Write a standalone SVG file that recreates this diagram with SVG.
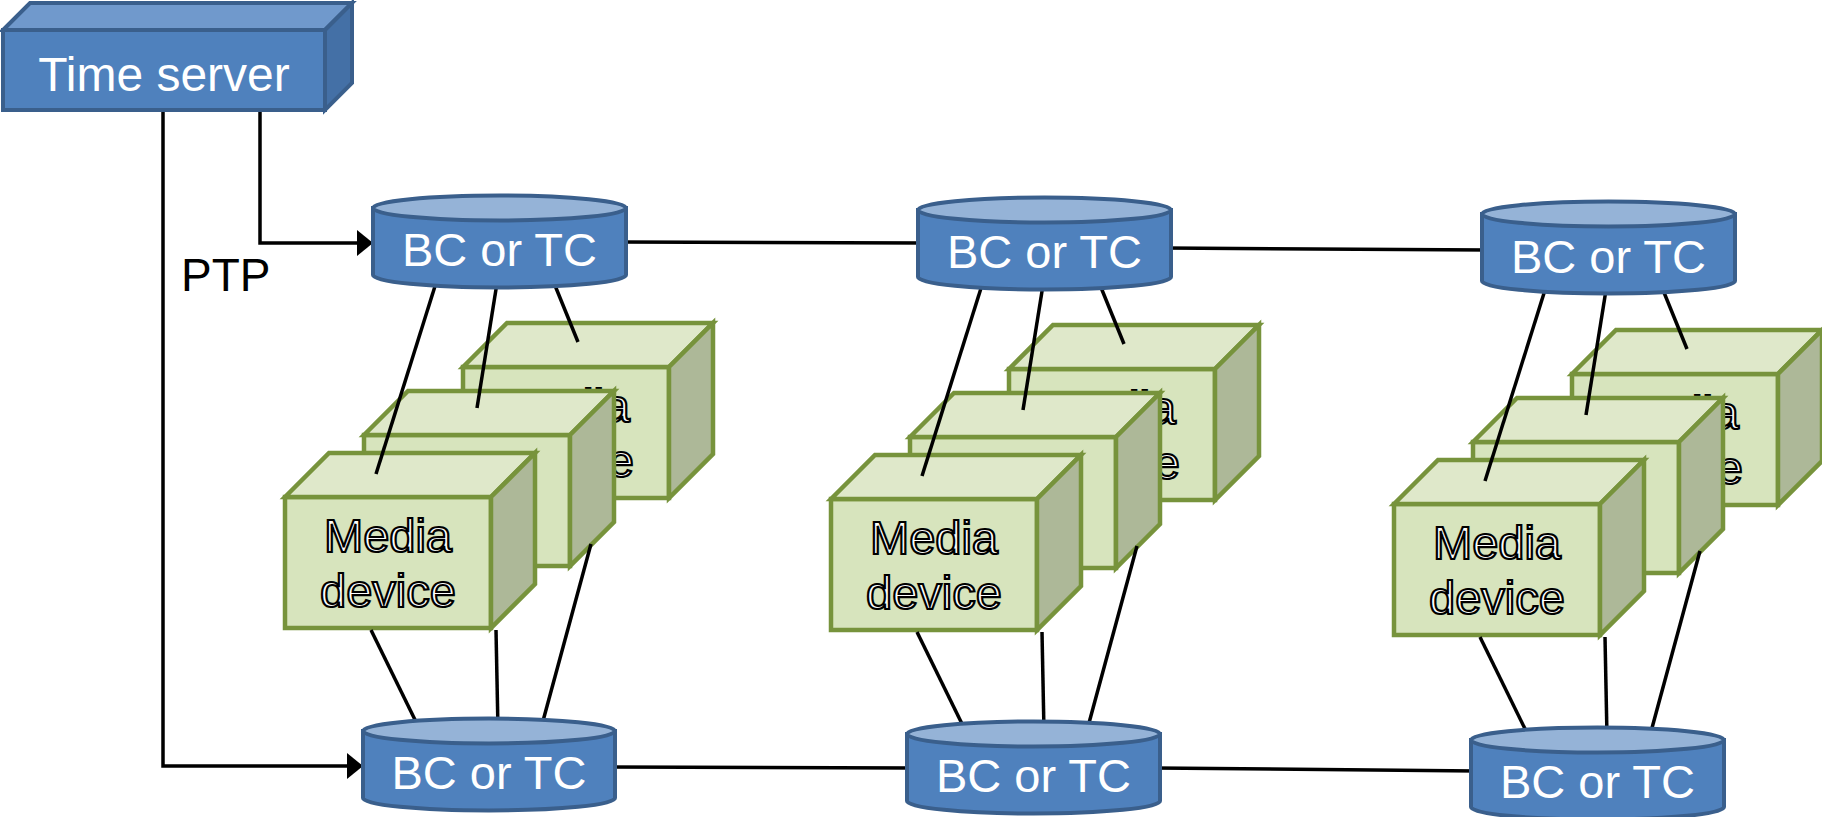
<svg xmlns="http://www.w3.org/2000/svg" width="1822" height="817" viewBox="0 0 1822 817">
<defs>
<style>
.ln{stroke:#000;stroke-width:3.5;fill:none;stroke-linecap:butt}
.bf{fill:#D7E4BD;stroke:#77933C;stroke-width:4.5;stroke-linejoin:miter}
.bt{fill:#DFE8CA;stroke:#77933C;stroke-width:4.5}
.br{fill:#ADB898;stroke:#77933C;stroke-width:4.5}
.bx{font-family:"Liberation Sans",Arial,sans-serif;font-size:47px;fill:#fff;stroke:#000;stroke-width:2.2;text-anchor:middle}
.cb{fill:#4F81BD;stroke:#3A5F8C;stroke-width:4}
.ct{fill:#95B3D7;stroke:#3A5F8C;stroke-width:4}
.wt{font-family:"Liberation Sans",Arial,sans-serif;font-size:47px;fill:#fff;text-anchor:middle}
.tf{fill:#4F81BD;stroke:#3A5F8C;stroke-width:4}
.tt{fill:#7099CC;stroke:#3A5F8C;stroke-width:4}
.tr{fill:#4470A6;stroke:#3A5F8C;stroke-width:4}
.lbl{font-family:"Liberation Sans",Arial,sans-serif;font-size:46px;fill:#000}
</style>
<marker id="arr" markerUnits="userSpaceOnUse" markerWidth="18" markerHeight="28" refX="0" refY="13" orient="auto" viewBox="0 0 18 26">
<path d="M0,0 L16,13 L0,26 Z" fill="#000"/>
</marker>
</defs>
<rect width="1822" height="817" fill="#fff"/>

<!-- Media devices column 1 -->
<g id="md1c" transform="translate(463,367)">
<rect class="bf" x="0" y="0" width="206" height="131"/>
<path class="bt" d="M0,0 L44,-44 L250,-44 L206,0 Z"/>
<path class="br" d="M206,0 L250,-44 L250,87 L206,131 Z"/>
<text class="bx" x="103" y="55">Media</text>
<text class="bx" x="103" y="110">device</text>
</g>
<g id="md1b" transform="translate(364,435)">
<rect class="bf" x="0" y="0" width="206" height="131"/>
<path class="bt" d="M0,0 L44,-44 L250,-44 L206,0 Z"/>
<path class="br" d="M206,0 L250,-44 L250,87 L206,131 Z"/>
</g>
<g id="md1a" transform="translate(285,497)">
<rect class="bf" x="0" y="0" width="206" height="131"/>
<path class="bt" d="M0,0 L44,-44 L250,-44 L206,0 Z"/>
<path class="br" d="M206,0 L250,-44 L250,87 L206,131 Z"/>
<text class="bx" x="103" y="55">Media</text>
<text class="bx" x="103" y="110">device</text>
</g>

<!-- Media devices column 2 -->
<g id="md2c" transform="translate(1009,369)">
<rect class="bf" x="0" y="0" width="206" height="131"/>
<path class="bt" d="M0,0 L44,-44 L250,-44 L206,0 Z"/>
<path class="br" d="M206,0 L250,-44 L250,87 L206,131 Z"/>
<text class="bx" x="103" y="55">Media</text>
<text class="bx" x="103" y="110">device</text>
</g>
<g id="md2b" transform="translate(910,437)">
<rect class="bf" x="0" y="0" width="206" height="131"/>
<path class="bt" d="M0,0 L44,-44 L250,-44 L206,0 Z"/>
<path class="br" d="M206,0 L250,-44 L250,87 L206,131 Z"/>
</g>
<g id="md2a" transform="translate(831,499)">
<rect class="bf" x="0" y="0" width="206" height="131"/>
<path class="bt" d="M0,0 L44,-44 L250,-44 L206,0 Z"/>
<path class="br" d="M206,0 L250,-44 L250,87 L206,131 Z"/>
<text class="bx" x="103" y="55">Media</text>
<text class="bx" x="103" y="110">device</text>
</g>

<!-- Media devices column 3 -->
<g id="md3c" transform="translate(1572,374)">
<rect class="bf" x="0" y="0" width="206" height="131"/>
<path class="bt" d="M0,0 L44,-44 L250,-44 L206,0 Z"/>
<path class="br" d="M206,0 L250,-44 L250,87 L206,131 Z"/>
<text class="bx" x="103" y="55">Media</text>
<text class="bx" x="103" y="110">device</text>
</g>
<g id="md3b" transform="translate(1473,442)">
<rect class="bf" x="0" y="0" width="206" height="131"/>
<path class="bt" d="M0,0 L44,-44 L250,-44 L206,0 Z"/>
<path class="br" d="M206,0 L250,-44 L250,87 L206,131 Z"/>
</g>
<g id="md3a" transform="translate(1394,504)">
<rect class="bf" x="0" y="0" width="206" height="131"/>
<path class="bt" d="M0,0 L44,-44 L250,-44 L206,0 Z"/>
<path class="br" d="M206,0 L250,-44 L250,87 L206,131 Z"/>
<text class="bx" x="103" y="55">Media</text>
<text class="bx" x="103" y="110">device</text>
</g>

<!-- Connectors -->
<g id="connectors">
<path class="ln" d="M260,110 V243 H357" marker-end="url(#arr)"/>
<path class="ln" d="M163,110 V766 H347" marker-end="url(#arr)"/>
<line class="ln" x1="620" y1="242" x2="925" y2="243"/>
<line class="ln" x1="1165" y1="248" x2="1488" y2="250"/>
<line class="ln" x1="608" y1="767" x2="913" y2="768"/>
<line class="ln" x1="1155" y1="768" x2="1477" y2="771"/>
<!-- column 1 -->
<line class="ln" x1="436" y1="283" x2="376" y2="474"/>
<line class="ln" x1="497" y1="283" x2="477" y2="408"/>
<line class="ln" x1="554" y1="283" x2="578" y2="342"/>
<line class="ln" x1="371" y1="630" x2="420" y2="730"/>
<line class="ln" x1="496" y1="630" x2="498" y2="730"/>
<line class="ln" x1="591" y1="544" x2="540" y2="732"/>
<!-- column 2 -->
<line class="ln" x1="982" y1="285" x2="922" y2="476"/>
<line class="ln" x1="1043" y1="285" x2="1023" y2="410"/>
<line class="ln" x1="1100" y1="285" x2="1124" y2="344"/>
<line class="ln" x1="917" y1="632" x2="966" y2="732"/>
<line class="ln" x1="1042" y1="632" x2="1044" y2="732"/>
<line class="ln" x1="1137" y1="546" x2="1086" y2="734"/>
<!-- column 3 -->
<line class="ln" x1="1545" y1="290" x2="1485" y2="481"/>
<line class="ln" x1="1606" y1="290" x2="1586" y2="415"/>
<line class="ln" x1="1663" y1="290" x2="1687" y2="349"/>
<line class="ln" x1="1480" y1="637" x2="1529" y2="737"/>
<line class="ln" x1="1605" y1="637" x2="1607" y2="737"/>
<line class="ln" x1="1700" y1="551" x2="1649" y2="739"/>
</g>
<text class="lbl" x="181" y="291">PTP</text>

<!-- BC or TC cylinders -->
<g id="bc-top1" transform="translate(373,208)">
<path class="cb" d="M0,0 V67 A126.5,12.5 0 0 0 253,67 V0 Z"/>
<ellipse class="ct" cx="126.5" cy="0" rx="126.5" ry="12.5"/>
<text class="wt" x="126.5" y="58">BC or TC</text>
</g>
<g id="bc-top2" transform="translate(918,210)">
<path class="cb" d="M0,0 V67 A126.5,12.5 0 0 0 253,67 V0 Z"/>
<ellipse class="ct" cx="126.5" cy="0" rx="126.5" ry="12.5"/>
<text class="wt" x="126.5" y="58">BC or TC</text>
</g>
<g id="bc-top3" transform="translate(1482,214)">
<path class="cb" d="M0,0 V67 A126.5,12.5 0 0 0 253,67 V0 Z"/>
<ellipse class="ct" cx="126.5" cy="0" rx="126.5" ry="12.5"/>
<text class="wt" x="126.5" y="59">BC or TC</text>
</g>
<g id="bc-bot1" transform="translate(363,731)">
<path class="cb" d="M0,0 V67 A126,12.5 0 0 0 252,67 V0 Z"/>
<ellipse class="ct" cx="126" cy="0" rx="126" ry="12.5"/>
<text class="wt" x="126" y="58">BC or TC</text>
</g>
<g id="bc-bot2" transform="translate(907,734)">
<path class="cb" d="M0,0 V67 A126.5,12.5 0 0 0 253,67 V0 Z"/>
<ellipse class="ct" cx="126.5" cy="0" rx="126.5" ry="12.5"/>
<text class="wt" x="126.5" y="58">BC or TC</text>
</g>
<g id="bc-bot3" transform="translate(1471,740)">
<path class="cb" d="M0,0 V67 A126.5,12.5 0 0 0 253,67 V0 Z"/>
<ellipse class="ct" cx="126.5" cy="0" rx="126.5" ry="12.5"/>
<text class="wt" x="126.5" y="58">BC or TC</text>
</g>

<!-- Time server -->
<g id="time-server">
<rect class="tf" x="3" y="30" width="322" height="80"/>
<path class="tt" d="M3,30 L30,3 L352,3 L325,30 Z"/>
<path class="tr" d="M325,30 L352,3 L352,83 L325,110 Z"/>
<text class="wt" x="164" y="91" style="font-size:48px">Time server</text>
</g>
</svg>
